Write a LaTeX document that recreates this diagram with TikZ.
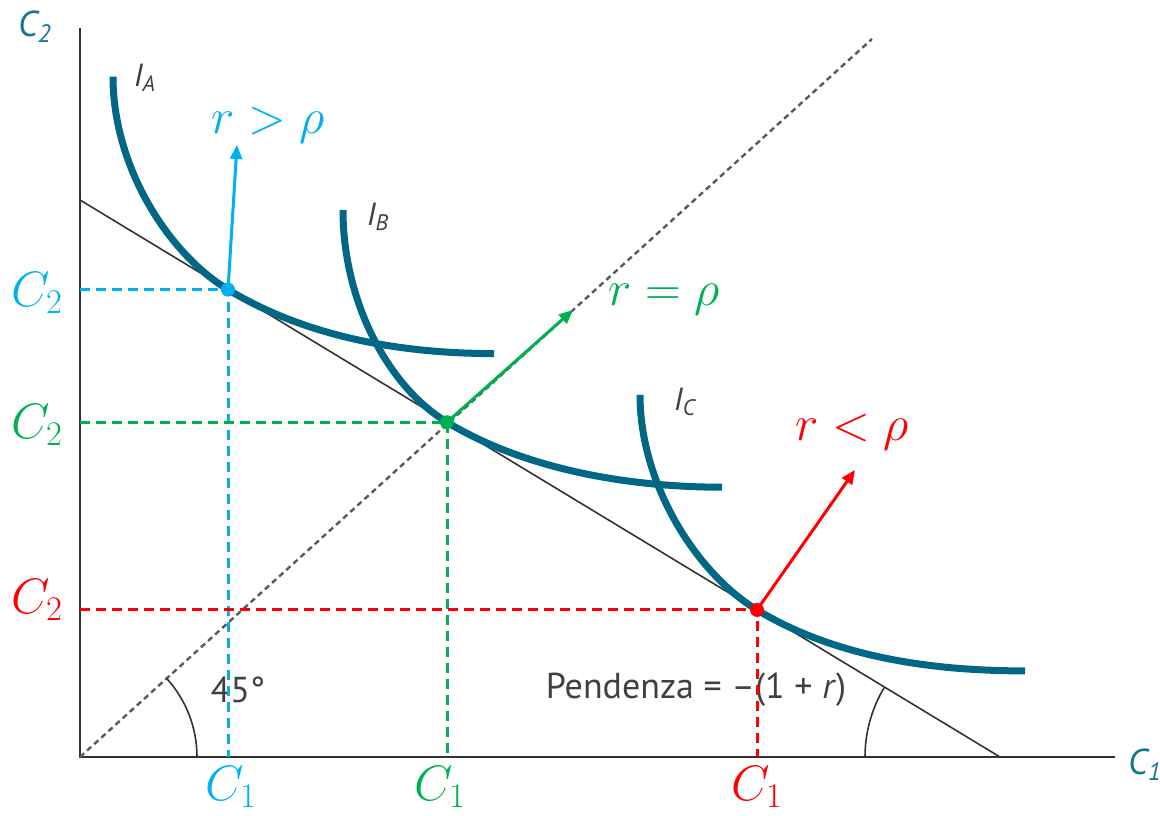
\documentclass[tikz,border=0pt]{standalone}
\usepackage{amsmath}
\usepackage{fontspec}
\setsansfont{PT Sans}
\usepackage{tikz}
\usetikzlibrary{arrows.meta}

\definecolor{curveteal}{RGB}{0,104,132}
\definecolor{labelteal}{RGB}{20,118,148}
\definecolor{skyblue}{RGB}{0,176,240}
\definecolor{okgreen}{RGB}{0,176,80}
\definecolor{brightred}{RGB}{255,0,0}

\begin{document}
\begin{tikzpicture}[x=0.5pt, y=0.5pt,
    axis/.style={line width=1pt, black!80},
    indiff/.style={line width=3.5pt, curveteal},
    proj/.style={line width=1.5pt, dash pattern=on 5pt off 3pt},
    dot/.style={circle, inner sep=0pt, minimum size=7pt},
    vecarrow/.style={-{Triangle[length=7pt,width=6pt]}, line width=1.5pt},
    cval/.style={font=\fontsize{25}{30}\selectfont, inner sep=1pt},
    cmp/.style={font=\fontsize{29}{34}\selectfont},
    note/.style={text=black!75, font=\sffamily\fontsize{18}{21}\selectfont},
    axislbl/.style={text=labelteal, font=\sffamily\itshape\fontsize{18}{21}\selectfont}]
    \useasboundingbox (-80,-58) rectangle (1080,757);

    % Axes
    \coordinate (O) at (0,0);
    \coordinate (ytop) at (0,729);
    \coordinate (xend) at (1035,0);
    \draw[axis] (ytop) -- (O) -- (xend);
    \node[axislbl] (ylab) at (-45,730) {C\textsubscript{2}};
    \node[axislbl] (xlab) at (1065,-8) {C\textsubscript{1}};

    % 45-degree line
    \coordinate (diag) at (792,718);
    \draw[black!65, line width=1.2pt, dash pattern=on 2.8pt off 2pt] (O) -- (diag);
    \draw[black!80, line width=0.8pt] (117,0) arc[start angle=0, end angle=42.2, radius=58.5pt];
    \node[note] (deg) at (158,67) {45\textdegree};

    % Budget line
    \coordinate (bud1) at (0,557);
    \coordinate (bud2) at (920,0);
    \draw[black!80, line width=0.8pt] (bud1) -- (bud2);
    \draw[black!80, line width=0.8pt] (785,0) arc[start angle=180, end angle=148.8, radius=67.5pt];
    \node[note] (slope) at (616,67) {Pendenza = –(1 + \textit{r})};

    % Tangency points
    \coordinate (tA) at (148,467.4);
    \coordinate (tB) at (367,334.8);
    \coordinate (tC) at (677,147.1);

    % Indifference curves
    \draw[indiff] (33,680.4) .. controls +(0,-90) and +(-60,36.3) .. (tA)
        .. controls +(80,-48.4) and +(-90,0) .. (414,403.4);
    \draw[indiff] (263,546.8) .. controls +(0,-90) and +(-60,36.3) .. (tB)
        .. controls +(80,-48.4) and +(-90,0) .. (642,269.8);
    \draw[indiff] (560,362.1) .. controls +(0,-90) and +(-60,36.3) .. (tC)
        .. controls +(80,-48.4) and +(-90,0) .. (945,86.1);
    \node[note, font=\sffamily\itshape\fontsize{16}{19}\selectfont] (IA) at (65,679) {I\textsubscript{A}};
    \node[note, font=\sffamily\itshape\fontsize{16}{19}\selectfont] (IB) at (298,540) {I\textsubscript{B}};
    \node[note, font=\sffamily\itshape\fontsize{16}{19}\selectfont] (IC) at (605,355) {I\textsubscript{C}};

    % r > rho
    \draw[proj, skyblue] (O |- tA) -- (tA) -- (tA |- O);
    \coordinate (endA) at (157,612);
    \draw[vecarrow, skyblue] (tA) -- (endA);
    \node[dot, fill=skyblue] (pA) at (tA) {};
    \node[cmp, skyblue] (gA) at (188,632) {$r>\rho$};
    \node[cval, skyblue] (c2A) at (-43,464) {$C_2$};
    \node[cval, skyblue] (c1A) at (151,-30) {$C_1$};

    % r = rho
    \draw[proj, okgreen] (O |- tB) -- (tB) -- (tB |- O);
    \coordinate (endB) at (493,447);
    \draw[vecarrow, okgreen] (tB) -- (endB);
    \node[dot, fill=okgreen] (pB) at (tB) {};
    \node[cmp, okgreen] (gB) at (584,457) {$r=\rho$};
    \node[cval, okgreen] (c2B) at (-43,332) {$C_2$};
    \node[cval, okgreen] (c1B) at (360,-30) {$C_1$};

    % r < rho
    \draw[proj, brightred] (O |- tC) -- (tC) -- (tC |- O);
    \coordinate (endC) at (775,287);
    \draw[vecarrow, brightred] (tC) -- (endC);
    \node[dot, fill=brightred] (pC) at (tC) {};
    \node[cmp, brightred] (gC) at (772,325) {$r<\rho$};
    \node[cval, brightred] (c2C) at (-43,157) {$C_2$};
    \node[cval, brightred] (c1C) at (677,-30) {$C_1$};
\end{tikzpicture}
\end{document}
